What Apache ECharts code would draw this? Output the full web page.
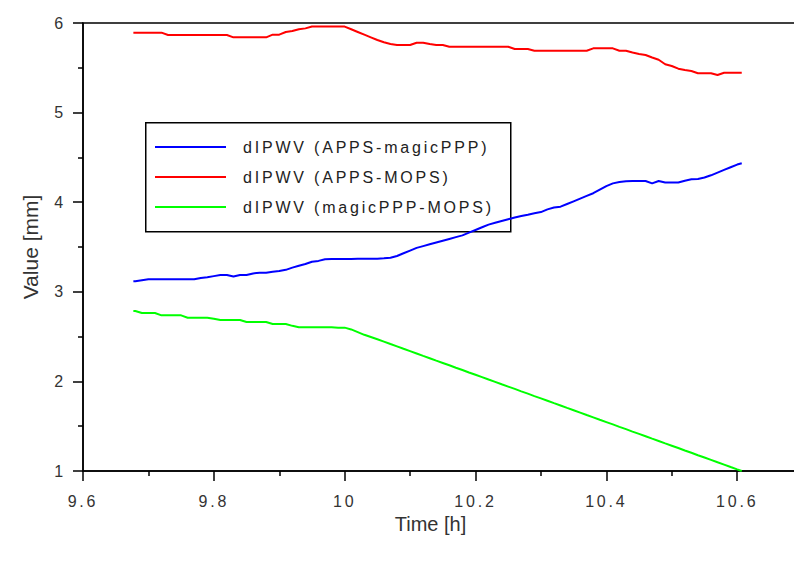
<!DOCTYPE html>
<html><head><meta charset="utf-8">
<script src="https://cdn.jsdelivr.net/npm/echarts@6/dist/echarts.min.js"></script>
<style>
html,body{margin:0;padding:0;background:#fff;overflow:hidden;width:794px;height:561px}
#chart{width:880px;height:561px}
#chart text[style*="16px"], #chart text[font-size*="16"]{letter-spacing:2.8px}
</style></head><body><div id="chart"></div>
<script>
// Time [h]
const hours = [9.677,
 9.68,9.69,9.70,9.71,9.72,9.73,9.74,9.75,9.76,9.77,9.78,9.79,
 9.80,9.81,9.82,9.83,9.84,9.85,9.86,9.87,9.88,9.89,
 9.90,9.91,9.92,9.93,9.94,9.95,9.96,9.97,9.98,9.99,
 10.00,10.01,10.02,10.03,10.04,10.05,10.06,10.07,10.08,10.09,
 10.10,10.11,10.12,10.13,10.14,10.15,10.16,10.17,10.18,10.19,
 10.20,10.21,10.22,10.23,10.24,10.25,10.26,10.27,10.28,10.29,
 10.30,10.31,10.32,10.33,10.34,10.35,10.36,10.37,10.38,10.39,
 10.40,10.41,10.42,10.43,10.44,10.45,10.46,10.47,10.48,10.49,
 10.50,10.51,10.52,10.53,10.54,10.55,10.56,10.57,10.58,10.59,
 10.60,10.607];

const seriesNames = ['dIPWV (APPS-magicPPP)', 'dIPWV (APPS-MOPS)', 'dIPWV (magicPPP-MOPS)'];
const seriesColors = ['#0000ff', '#ff0000', '#00ff00'];

const appsMagic = [3.117,
 3.117,3.128,3.139,3.139,3.139,3.139,3.139,3.139,3.139,3.139,3.155,3.162,
 3.175,3.188,3.188,3.17,3.188,3.188,3.205,3.213,3.213,3.225,
 3.232,3.245,3.27,3.29,3.31,3.336,3.345,3.363,3.365,3.365,
 3.365,3.365,3.37,3.37,3.37,3.37,3.374,3.38,3.40,3.43,
 3.46,3.49,3.51,3.53,3.55,3.57,3.59,3.61,3.63,3.66,
 3.69,3.72,3.75,3.77,3.79,3.81,3.83,3.845,3.86,3.876,
 3.89,3.92,3.94,3.95,3.98,4.01,4.04,4.07,4.10,4.14,
 4.18,4.21,4.225,4.235,4.237,4.237,4.237,4.21,4.237,4.22,
 4.22,4.22,4.24,4.255,4.26,4.275,4.30,4.33,4.36,4.39,
 4.42,4.434];

const appsMops = [5.892,
 5.892,5.892,5.892,5.892,5.892,5.866,5.866,5.866,5.866,5.866,5.866,5.866,
 5.866,5.866,5.866,5.84,5.84,5.84,5.84,5.84,5.84,5.87,
 5.87,5.90,5.91,5.93,5.94,5.96,5.96,5.96,5.96,5.96,
 5.96,5.93,5.90,5.87,5.84,5.81,5.785,5.765,5.755,5.755,
 5.755,5.78,5.78,5.765,5.755,5.755,5.735,5.735,5.735,5.735,
 5.735,5.735,5.735,5.735,5.735,5.735,5.71,5.71,5.71,5.69,
 5.69,5.69,5.69,5.69,5.69,5.69,5.69,5.69,5.717,5.717,
 5.717,5.717,5.69,5.69,5.67,5.655,5.643,5.615,5.59,5.54,
 5.52,5.49,5.475,5.464,5.44,5.44,5.44,5.42,5.445,5.445,
 5.445,5.445];

const magicMops = [2.786,
 2.786,2.763,2.763,2.763,2.737,2.737,2.737,2.737,2.711,2.711,2.711,2.711,
 2.70,2.685,2.685,2.685,2.685,2.663,2.663,2.663,2.663,2.64,
 2.64,2.64,2.62,2.604,2.604,2.604,2.604,2.604,2.604,2.60,
 2.60,2.58,2.55,2.52,2.495,2.47,2.444,2.417,2.391,2.364,
 2.338,2.312,2.285,2.259,2.232,2.206,2.180,2.153,2.127,2.100,
 2.074,2.048,2.021,1.995,1.968,1.942,1.916,1.889,1.863,1.836,
 1.810,1.784,1.757,1.731,1.704,1.678,1.652,1.625,1.599,1.572,
 1.546,1.520,1.493,1.467,1.440,1.414,1.388,1.361,1.335,1.308,
 1.282,1.256,1.229,1.203,1.176,1.150,1.124,1.097,1.071,1.044,
 1.018,1.0];

const seriesValues = [appsMagic, appsMops, magicMops];

// axis ticks
const xMin = 9.6, xMax = 10.8, xStep = 0.2;
const yMin = 1, yMax = 6, yStep = 1;
const xTitle = 'Time [h]';
const yTitle = 'Value [mm]';

const FONT = 'Liberation Sans, Arial, Helvetica, sans-serif';
const chart = echarts.init(document.getElementById('chart'), null, {renderer: 'svg'});

const option = {
  animation: false,
  backgroundColor: '#fff',
  grid: {left: 83, top: 23, width: 785, height: 448, show: true, borderColor: '#000', borderWidth: 1.5, backgroundColor: 'transparent'},
  xAxis: {
    type: 'value', min: xMin, max: xMax, interval: xStep,
    position: 'bottom',
    name: xTitle, nameLocation: 'middle', nameGap: 36,
    nameTextStyle: {fontFamily: FONT, fontSize: 20, color: '#333', padding: [0, 90, 0, 0]},
    axisLine: {show: true, onZero: false, lineStyle: {color: '#000', width: 1.5}},
    axisTick: {show: true, inside: false, length: 10, lineStyle: {color: '#000', width: 1.5}},
    minorTick: {show: true, splitNumber: 2, length: 5, lineStyle: {color: '#000', width: 1.5}},
    axisLabel: {fontFamily: FONT, fontSize: 16, color: '#333', margin: 22, showMaxLabel: false},
    splitLine: {show: false}
  },
  yAxis: {
    type: 'value', min: yMin, max: yMax, interval: yStep,
    name: yTitle, nameLocation: 'middle', nameGap: 42,
    nameTextStyle: {fontFamily: FONT, fontSize: 21, color: '#333'},
    axisLine: {show: true, onZero: false, lineStyle: {color: '#000', width: 1.5}},
    axisTick: {show: true, inside: false, length: 10, lineStyle: {color: '#000', width: 1.5}},
    minorTick: {show: true, splitNumber: 2, length: 5, lineStyle: {color: '#000', width: 1.5}},
    axisLabel: {fontFamily: FONT, fontSize: 16, color: '#333', margin: 17},
    splitLine: {show: false}
  },
  legend: {
    orient: 'vertical', left: 155, top: 138, padding: 0,
    icon: 'path://M0,0 L71,0 L71,2 L0,2 Z',
    itemWidth: 71, itemHeight: 2, itemGap: 12,
    textStyle: {fontFamily: FONT, fontSize: 16, color: '#222', lineHeight: 18, padding: [0, 0, 0, 12]},
    data: seriesNames
  },
  graphic: [{
    type: 'rect', left: 145, top: 122, z: 3,
    shape: {width: 365, height: 109},
    style: {fill: '#fff', stroke: '#000', lineWidth: 1.5}
  }],
  series: seriesNames.map((name, i) => ({
    name: name, type: 'line', showSymbol: false, symbol: 'none',
    color: seriesColors[i],
    lineStyle: {color: seriesColors[i], width: 2},
    data: hours.map((h, j) => [h, seriesValues[i][j]])
  }))
};
chart.setOption(option);
</script></body></html>
